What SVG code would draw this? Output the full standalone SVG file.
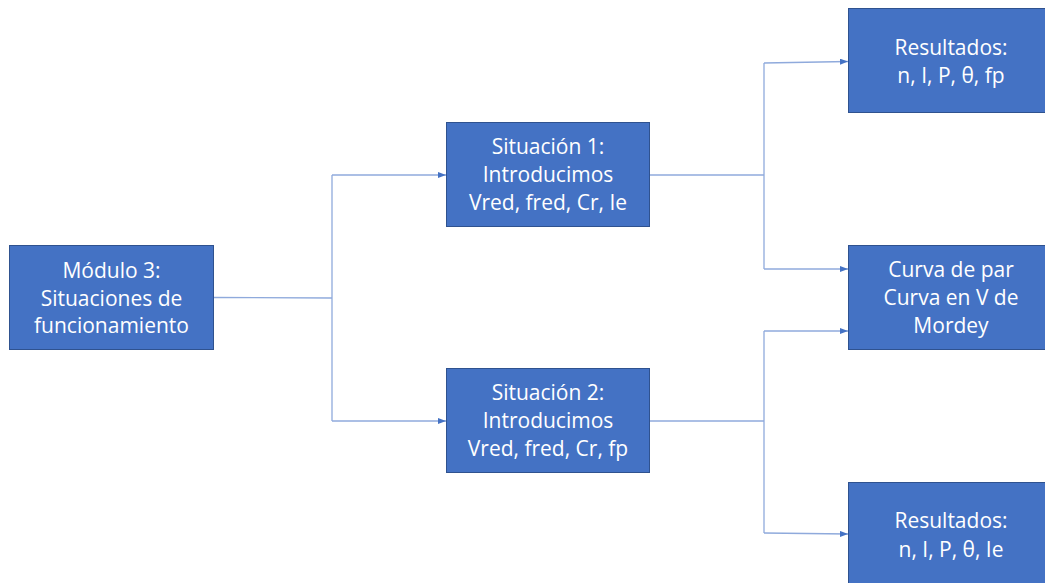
<svg xmlns="http://www.w3.org/2000/svg" width="1045" height="583" viewBox="0 0 1045 583">
<defs>
<style>
.box{fill:#4472C4;stroke:#2F528F;stroke-width:1}
.t{font-family:"Open Sans","Liberation Sans",sans-serif;font-size:21px;fill:#FFFFFF;text-anchor:middle}
.c{fill:none;stroke:#8FAADC;stroke-width:1.3}
</style>
<marker id="ah" markerWidth="8" markerHeight="6" refX="8" refY="3" orient="auto" markerUnits="userSpaceOnUse">
<path d="M0,0 L8,3 L0,6 Z" fill="#4472C4"/>
</marker>
</defs>
<rect width="1045" height="583" fill="#FFFFFF"/>
<g id="connectors">
<path class="c" d="M214,297.5 L332,298"/>
<path class="c" d="M332,175 L332,421"/>
<path class="c" d="M332,175 L446,175" marker-end="url(#ah)"/>
<path class="c" d="M332,421 L446,421" marker-end="url(#ah)"/>
<path class="c" d="M650,175 L764,175"/>
<path class="c" d="M764,63 L764,269"/>
<path class="c" d="M764,63 L848,61.5" marker-end="url(#ah)"/>
<path class="c" d="M764,269 L848,269" marker-end="url(#ah)"/>
<path class="c" d="M650,421 L764,421"/>
<path class="c" d="M764,331 L764,533"/>
<path class="c" d="M764,331 L848,331" marker-end="url(#ah)"/>
<path class="c" d="M764,533 L848,534" marker-end="url(#ah)"/>
</g>
<g id="modulo3">
<rect class="box" x="9.5" y="245.5" width="204" height="104"/>
<text class="t" x="111.5" y="278">Módulo 3:</text>
<text class="t" x="111.5" y="306">Situaciones de</text>
<text class="t" x="111.5" y="333">funcionamiento</text>
</g>
<g id="situacion1">
<rect class="box" x="446.5" y="122.5" width="203" height="104"/>
<text class="t" x="548" y="154">Situación 1:</text>
<text class="t" x="548" y="182">Introducimos</text>
<text class="t" x="548" y="210">Vred, fred, Cr, Ie</text>
</g>
<g id="situacion2">
<rect class="box" x="446.5" y="368.5" width="203" height="104"/>
<text class="t" x="548" y="400">Situación 2:</text>
<text class="t" x="548" y="428">Introducimos</text>
<text class="t" x="548" y="456">Vred, fred, Cr, fp</text>
</g>
<g id="resultados1">
<rect class="box" x="848.5" y="8.5" width="200" height="104"/>
<text class="t" x="951" y="55">Resultados:</text>
<text class="t" x="951" y="83">n, I, P, θ, fp</text>
</g>
<g id="curva">
<rect class="box" x="848.5" y="245.5" width="200" height="104"/>
<text class="t" x="951" y="277">Curva de par</text>
<text class="t" x="951" y="305">Curva en V de</text>
<text class="t" x="951" y="333">Mordey</text>
</g>
<g id="resultados2">
<rect class="box" x="848.5" y="482.5" width="200" height="104"/>
<text class="t" x="951" y="528">Resultados:</text>
<text class="t" x="951" y="557">n, I, P, θ, Ie</text>
</g>
</svg>
